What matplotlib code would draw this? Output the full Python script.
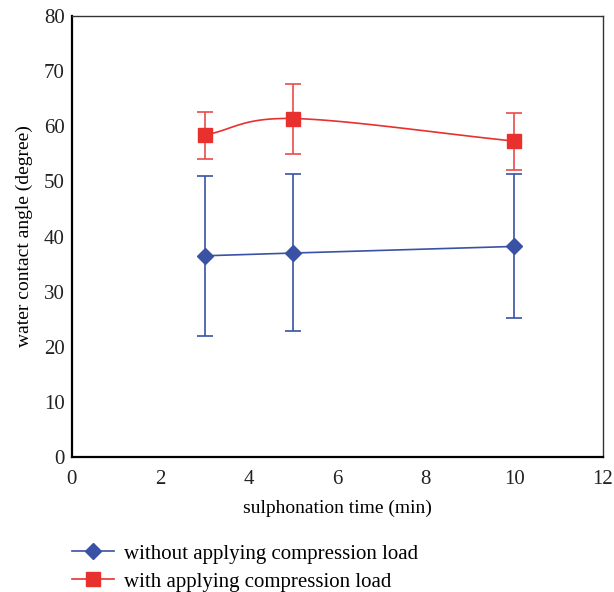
import numpy as np
import matplotlib.pyplot as plt

plt.rcParams['font.family'] = ['Liberation Serif', 'DejaVu Serif']

time_min = [3, 5, 10]
angle_without = [36.5, 37.0, 38.2]
err_without_low = [14.5, 14.2, 13.0]
err_without_high = [14.4, 14.3, 13.1]
angle_with = [58.4, 61.4, 57.3]
err_with_low = [4.3, 6.5, 5.2]
err_with_high = [4.2, 6.3, 5.1]

blue = '#3a52a3'
red = '#e8302e'


def smooth(x, y, n=40):
    # Catmull-Rom style smoothing like a spreadsheet "smoothed line"
    x = np.asarray(x, float)
    y = np.asarray(y, float)
    px = np.concatenate([[2 * x[0] - x[1]], x, [2 * x[-1] - x[-2]]])
    py = np.concatenate([[2 * y[0] - y[1]], y, [2 * y[-1] - y[-2]]])
    xs, ys = [], []
    t = np.linspace(0, 1, n)
    for i in range(1, len(px) - 2):
        for p, out in ((px, xs), (py, ys)):
            p0, p1, p2, p3 = p[i - 1], p[i], p[i + 1], p[i + 2]
            c1 = p1 + (p2 - p0) / 6
            c2 = p2 - (p3 - p1) / 6
            out.extend((1 - t) ** 3 * p1 + 3 * (1 - t) ** 2 * t * c1
                       + 3 * (1 - t) * t ** 2 * c2 + t ** 3 * p2)
    return xs, ys


fig = plt.figure(figsize=(6.14, 5.92), dpi=100)
ax = fig.add_axes([0.117, 0.228, 0.865, 0.745])

ax.errorbar(time_min, angle_without, yerr=[err_without_low, err_without_high],
            fmt='none', ecolor=blue, elinewidth=1.2, capsize=6, capthick=1.2)
ax.plot(time_min, angle_without, color=blue, lw=1.2, marker='D', ms=8,
        label='without applying compression load')

ax.errorbar(time_min, angle_with, yerr=[err_with_low, err_with_high],
            fmt='none', ecolor='#ea4a48', elinewidth=1.2, capsize=6, capthick=1.2)
sx, sy = smooth(time_min, angle_with)
ax.plot(sx, sy, color=red, lw=1.2)
ax.plot(time_min, angle_with, color=red, lw=0, marker='s', ms=10.5)
ax.plot([], [], color=red, lw=1.2, marker='s', ms=10.5,
        label='with applying compression load')

ax.set_xlim(0, 12)
ax.set_ylim(0, 80)
ax.set_xticks(range(0, 13, 2))
ax.set_yticks(range(0, 81, 10))
ax.tick_params(length=0, labelsize=15, colors='#222222')
ax.tick_params(axis='x', pad=9)
ax.tick_params(axis='y', pad=5)
ax.set_xlabel('sulphonation time (min)', fontsize=14, labelpad=8)
ax.set_ylabel('water contact angle (degree)', fontsize=14, labelpad=8)
for side in ['left', 'bottom']:
    ax.spines[side].set_linewidth(1.6)
for side in ['top', 'right']:
    ax.spines[side].set_linewidth(1.0)
    ax.spines[side].set_color('#333333')

fig.legend(loc='upper left', bbox_to_anchor=(0.117, 1 - 544 / 592), frameon=False,
           fontsize=15, handlelength=2.0, handletextpad=0.5, labelspacing=0.4,
           borderpad=0, borderaxespad=0)

fig.savefig('out.png', dpi=100)
